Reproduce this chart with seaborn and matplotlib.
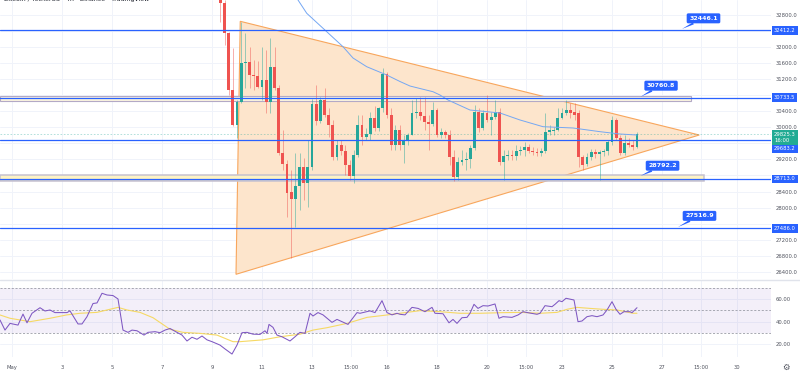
import numpy as np
import pandas as pd
import matplotlib
matplotlib.use("Agg")
import matplotlib.pyplot as plt
import matplotlib.transforms as mtransforms
from matplotlib.patches import Polygon, Rectangle
from matplotlib.lines import Line2D
import seaborn as sns

# ---------------- data ----------------
# BTC 4h candles, chronological, first candle May 9 08:00
candle_open = [33539, 33099, 32337, 30927, 30056, 30636, 31591, 31623, 31300, 31275,
               30994, 31176, 30621, 31506, 30969, 29367, 29086, 28390, 28215, 28539,
               29019, 28621, 29019, 30579, 30163, 30678, 30305, 30056, 29268, 29559,
               29417, 29061, 28788, 29310, 30056, 29758, 29832, 30230, 29982, 30479,
               31325, 30305, 29559, 29932, 29559, 29683, 29807, 30355, 30380, 30280,
               30131, 30081, 30429, 29807, 29882, 29807, 29261, 28763, 29136, 29186,
               29211, 29484, 30380, 29982, 30355, 30181, 30255, 30380, 29136, 29286,
               29310, 29286, 29410, 29434, 29509, 29410, 29385, 29360, 29410, 29882,
               29907, 29932, 30230, 30355, 30429, 30380, 30355, 29261, 29086, 29261,
               29385, 29334, 29385, 29410, 29634, 30181, 29733, 29360, 29609, 29559,
               29509]
candle_high = [33663, 33166, 32370, 31972, 30678, 32626, 32352, 32004, 31673, 31648,
               32004, 31922, 32220, 32004, 31051, 29932, 29186, 28937, 29360, 29360,
               29236, 29683, 30703, 31051, 30760, 30977, 30479, 30181, 29683, 29683,
               29559, 29186, 29434, 30305, 30305, 29982, 30387, 30529, 30511, 31467,
               31375, 30479, 30056, 30056, 29807, 29857, 30678, 30728, 30760, 30760,
               30305, 30636, 30479, 29982, 29932, 29932, 29434, 29261, 29434, 29385,
               29559, 30554, 30479, 30429, 30802, 30380, 30678, 30479, 29434, 29434,
               29434, 29559, 29534, 29641, 29584, 29509, 29484, 29484, 30355, 30056,
               30006, 30479, 30479, 30678, 30611, 30611, 30429, 29310, 29360, 29459,
               29459, 29434, 29459, 29683, 30281, 30230, 29807, 29807, 29733, 29683,
               29882]
candle_low = [32626, 32046, 30802, 30031, 29733, 30603, 30977, 30977, 30927, 30977,
              30678, 30355, 30355, 30927, 29310, 28937, 27768, 26755, 27519, 27942,
              28190, 28016, 28937, 30056, 30106, 30255, 29758, 29186, 29186, 29310,
              28812, 28688, 28613, 29261, 29559, 29683, 29683, 29907, 29907, 30380,
              30230, 29434, 29434, 29434, 29111, 29559, 29807, 30230, 30181, 29932,
              29434, 30031, 29758, 29733, 29733, 29061, 28663, 28688, 29061, 28937,
              28987, 29434, 29882, 29932, 30131, 29807, 30206, 29061, 28688, 29186,
              29186, 29186, 29310, 29286, 29360, 29310, 29286, 29286, 29360, 29807,
              29807, 29907, 30200, 30300, 30230, 30181, 29012, 28937, 29036, 29186,
              29236, 28688, 29286, 29310, 29559, 29683, 29310, 29310, 29509, 29434,
              29484]
candle_close = [33099, 32337, 30927, 30056, 30636, 31591, 31623, 31300, 31275, 30994,
                31176, 30621, 31506, 30969, 29367, 29086, 28372, 28215, 28539, 29019,
                28621, 29019, 30579, 30163, 30678, 30305, 30056, 29268, 29559, 29417,
                29061, 28788, 29310, 30056, 29758, 29832, 30230, 29982, 30479, 31325,
                30305, 29559, 29932, 29559, 29683, 29807, 30355, 30380, 30280, 30131,
                30081, 30429, 29807, 29882, 29807, 29261, 28763, 29136, 29186, 29211,
                29484, 30380, 29982, 30355, 30181, 30255, 30380, 29136, 29286, 29310,
                29286, 29410, 29434, 29509, 29410, 29385, 29360, 29410, 29882, 29932,
                29932, 30230, 30355, 30429, 30355, 30305, 29261, 29061, 29261, 29385,
                29334, 29385, 29410, 29634, 30181, 29733, 29360, 29609, 29559, 29509,
                29825]
candle_start = "2022-05-09 08:00"

# moving average drawn on the price pane (day of May, price)
ma_day = [12.30, 12.44, 12.79, 13.59, 14.24, 14.64, 15.19, 15.99, 16.52, 16.92,
          17.84, 18.12, 18.44, 19.32, 20.52, 21.32, 22.24, 23.44, 24.52, 25.32, 26.0]
ma_price = [33450, 33166, 32835, 32377, 32004, 31723, 31506, 31300, 31138, 31026,
            30884, 30802, 30678, 30429, 30355, 30181, 30014, 29982, 29890, 29832, 29807]

# RSI (day of May, value)
rsi_day = [0.52, 0.72, 0.92, 1.24, 1.44, 1.60, 1.80, 2.12, 2.32, 2.52, 2.72, 3.20, 3.32,
           3.64, 3.80, 4.00, 4.24, 4.40, 4.60, 4.80, 5.04, 5.24, 5.44, 5.64, 5.80, 6.00,
           6.28, 6.44, 6.72, 6.92, 7.12, 7.32, 7.60, 7.80, 8.00, 8.20, 8.40, 8.60, 8.80,
           9.00, 9.32, 9.52, 9.80, 10.00, 10.20, 10.40, 10.64, 10.92, 11.12, 11.20, 11.28,
           11.44, 11.60, 11.80, 12.12, 12.32, 12.52, 12.72, 12.92, 13.04, 13.24, 13.44,
           13.80, 14.00, 14.44, 14.80, 14.92, 15.32, 15.52, 15.80, 16.00, 16.20, 16.40,
           16.52, 16.72, 17.00, 17.24, 17.52, 17.80, 17.92, 18.24, 18.48, 18.64, 18.80,
           19.00, 19.20, 19.32, 19.48, 19.64, 19.84, 20.04, 20.32, 20.48, 20.64, 21.00,
           21.24, 21.44, 21.64, 22.00, 22.12, 22.32, 22.60, 22.72, 22.88, 23.00, 23.16,
           23.48, 23.64, 23.80, 24.00, 24.20, 24.40, 24.64, 24.80, 25.00, 25.16, 25.32,
           25.48, 25.72, 25.80, 26.00]
rsi_value = [41.5, 32.6, 38.5, 37, 46.7, 39, 47.4, 52.3, 49.4, 50.3, 48, 48, 49.5,
             38, 38, 44.4, 56, 56.5, 65, 63.5, 63, 60, 32.6, 30.6, 32.6, 32,
             28.2, 30.6, 31.2, 30.3, 32.6, 34, 30.6, 28.2, 23, 26.3, 24.5, 27.4, 24,
             22.4, 19.4, 16, 11.5, 19.4, 30.3, 30.6, 29, 28.8, 32, 29.7, 37.6,
             35, 28.2, 26.7, 23, 26.7, 30.6, 29.7, 47.4, 45, 48, 46,
             39.4, 42, 37.6, 48, 47.4, 49.5, 48, 58.5, 48, 46, 47.4,
             46.5, 46, 52.6, 51.7, 48.8, 52.6, 47.4, 47, 39, 42, 38.5,
             43.5, 43.8, 47.4, 55.3, 51.7, 54.1, 53.8, 55.6, 43, 44.4, 43.8,
             45.9, 48.8, 47.9, 46.5, 47.4, 54.1, 53.2, 55.3, 58.5, 57.6, 60.6,
             59.1, 40, 40.6, 44.4, 45.3, 44.4, 45.9, 50.3, 57.6, 50.9, 46.5,
             48.8, 48.8, 47.9, 52.3]
rsi_ma_day = [0.52, 0.92, 1.72, 2.52, 3.20, 3.72, 4.40, 4.80, 5.24, 5.60, 6.12, 6.64,
              7.32, 7.84, 8.52, 9.20, 9.84, 10.12, 11.04, 11.72, 12.52, 13.04, 13.60,
              14.40, 15.20, 16.00, 16.52, 17.32, 18.12, 18.92, 19.72, 20.52, 21.32,
              22.12, 22.80, 23.20, 23.60, 24.12, 24.64, 25.20, 25.84, 26.00]
rsi_ma_value = [45.9, 43, 40, 43, 46, 47.4, 48.2, 50.3, 52.6, 50.3, 48.2, 43.5,
                33.3, 30.6, 29.7, 28.2, 22.4, 22.4, 24, 26.7, 29, 32.6, 34.7,
                38.5, 43.8, 45.9, 47.4, 49.7, 48.8, 47.4, 47.4, 47.9, 48.2,
                47.4, 48.2, 50.9, 52.6, 51.7, 50.9, 50.3, 47.4, 47.4]

# drawn objects
hline_levels = [32412.2, 30733.5, 29683.2, 28713.0, 27486.0]
callout_values = [32446.1, 30760.8, 28792.2, 27516.9]
zone_low = [30646, 28671]
zone_high = [30770, 28805]
zone_end_day = [28.16, 28.68]
triangle_day = [10.13, 9.96, 28.49]
triangle_price = [32636, 26342, 29807]
last_price = 29825.3
countdown = "16:00"

# price scale labels that are not hidden behind the level boxes
price_ticks = [26400, 26800, 27200, 28000, 28400, 29200,
               30000, 30400, 31200, 31600, 32000, 32800]
grid_prices = [26400, 26800, 27200, 27600, 28000, 28400, 28800, 29200, 29600,
               30000, 30400, 30800, 31200, 31600, 32000, 32400, 32800]
rsi_ticks = [20, 40, 60]
time_tick_day = [1, 3, 5, 7, 9, 11, 13, 14.55, 16, 18, 20, 21.55, 23, 25, 27, 28.55, 30]
time_tick_label = ["May", "3", "5", "7", "9", "11", "13", "15:00", "16", "18", "20",
                   "15:00", "23", "25", "27", "15:00", "30"]
title_text = "Bitcoin / TetherUS · 4h · Binance · TradingView"

# ---------------- styling / layout ----------------
sns.set_theme(style="white")
plt.rcParams["font.family"] = ["DejaVu Sans"]

BLUE = "#2962ff"
UP, DOWN = "#26a69a", "#ef5350"
GRID = "#f0f3fa"
TXT = "#50535e"

W, H = 800, 373
fig = plt.figure(figsize=(W / 100, H / 100), dpi=100)
fig.patch.set_facecolor("white")


def fy(py):
    return 1 - py / H


ax = fig.add_axes([0, fy(279), 771 / W, fy(0) - fy(279)])
axr = fig.add_axes([0, fy(357), 771 / W, fy(280) - fy(357)], sharex=ax)
for a in (ax, axr):
    a.set_facecolor("white")
    for s in a.spines.values():
        s.set_visible(False)

ax.set_xlim(0.52, 31.36)
ax.set_ylim(26225, 33166)
axr.set_ylim(8.9, 76.7)

# grid
for p in grid_prices:
    ax.axhline(p, color=GRID, lw=0.7, zorder=0)
for d in time_tick_day:
    ax.axvline(d, color=GRID, lw=0.7, zorder=0)
    axr.axvline(d, color=GRID, lw=0.7, zorder=0)
for r in rsi_ticks:
    axr.axhline(r, color=GRID, lw=0.7, zorder=0)

# triangle
tri = Polygon(list(zip(triangle_day, triangle_price)), closed=True,
              facecolor="#fde5cc", edgecolor="#f8a65c", lw=0.8, zorder=1)
ax.add_patch(tri)

# zones
zone_styles = [dict(fc="#fbf5df", ec="#b3a9c6", lw=0.8),
               dict(fc="#fdf3c4", ec="#c6c1cf", lw=1.1)]
for lo, hi, end, st in zip(zone_low, zone_high, zone_end_day, zone_styles):
    ax.add_patch(Rectangle((0.52, lo), end - 0.52, hi - lo, zorder=1.5, **st))

# candles
times = pd.date_range(candle_start, periods=len(candle_open), freq="4h")
cday = np.asarray(times.day + times.hour / 24.0, dtype=float)
o = np.array(candle_open, float)
h = np.array(candle_high, float)
l = np.array(candle_low, float)
c = np.array(candle_close, float)
cols = np.where(c >= o, UP, DOWN)
ax.vlines(cday, l, h, colors=cols, lw=0.6, alpha=0.55, zorder=3)
ax.bar(cday, np.maximum(np.abs(c - o), 18), bottom=np.minimum(o, c), width=0.11,
       color=cols, linewidth=0, zorder=4)

# moving average
sns.lineplot(x=ma_day, y=ma_price, ax=ax, color="#74a7f3", lw=0.7, errorbar=None,
             sort=False, zorder=4.5)

# current price dotted line
ax.axhline(last_price, color=UP, lw=0.6, ls=(0, (2, 2)), alpha=0.4, zorder=2)

# horizontal levels
for lv in hline_levels:
    ax.axhline(lv, color=BLUE, lw=0.9, zorder=5)

# callouts
callout_anchor_day = [27.80, 26.15, 26.15, 27.64]
callout_offset = [(21.5, 10.6), (20.3, 11.0), (21.8, 10.1), (21.5, 11.2)]
for val, d, off in zip(callout_values, callout_anchor_day, callout_offset):
    ax.annotate(f"{val:.1f}", xy=(d, val), xytext=off, textcoords="offset pixels",
                ha="center", va="center", color="white", fontsize=4.5, fontweight="bold",
                bbox=dict(boxstyle="round,pad=0.4,rounding_size=0.25", fc=BLUE, ec="none"),
                arrowprops=dict(arrowstyle="wedge,tail_width=0.35,shrink_factor=0.5",
                                fc=BLUE, ec="none", shrinkA=0, shrinkB=0),
                zorder=8, annotation_clip=False)

# right price scale
ax.yaxis.tick_right()
ax.set_yticks(price_ticks)
ax.set_yticklabels([f"{p:.1f}" for p in price_ticks])
ax.tick_params(axis="y", length=0, pad=3.5, labelsize=3.8, labelcolor=TXT)
ax.tick_params(axis="x", bottom=False, labelbottom=False)

trans = mtransforms.blended_transform_factory(ax.transAxes, ax.transData)
label_shift = {29683.2: -8.5}
for lv in hline_levels:
    ax.annotate(f"{lv:.1f}", xy=(1.0, lv), xycoords=trans,
                xytext=(3, label_shift.get(lv, 0)), textcoords="offset pixels",
                ha="left", va="center", color="white", fontsize=3.8,
                bbox=dict(boxstyle="square,pad=0.35", fc=BLUE, ec="none"),
                zorder=9, annotation_clip=False)
ax.annotate(f"{last_price:.1f}\n{countdown}", xy=(1.0, last_price), xycoords=trans,
            xytext=(3, -3.2), textcoords="offset pixels", ha="left", va="center",
            color="white", fontsize=3.8, linespacing=1.25,
            bbox=dict(boxstyle="square,pad=0.35", fc="#22ab94", ec="none"),
            zorder=10, annotation_clip=False)

# RSI pane
axr.axhspan(30, 70, color="#7e57c2", alpha=0.09, lw=0, zorder=0.5)
for r in (70, 50, 30):
    axr.axhline(r, color="#9a9ca6", lw=0.6, ls=(0, (2.5, 2)), zorder=1)
sns.lineplot(x=rsi_ma_day, y=rsi_ma_value, ax=axr, color="#f6d964", lw=0.8,
             errorbar=None, sort=False, zorder=2)
sns.lineplot(x=rsi_day, y=rsi_value, ax=axr, color="#7e57c2", lw=0.75,
             errorbar=None, sort=False, zorder=3)
axr.yaxis.tick_right()
axr.set_yticks(rsi_ticks)
axr.set_yticklabels([f"{r:.2f}" for r in rsi_ticks])
axr.tick_params(axis="y", length=0, pad=3.5, labelsize=3.8, labelcolor=TXT)
axr.set_xticks(time_tick_day)
axr.set_xticklabels(time_tick_label)
axr.tick_params(axis="x", length=0, pad=5.5, labelsize=3.8, labelcolor=TXT)
axr.set_xlabel("")
axr.set_ylabel("")
ax.set_xlabel("")
ax.set_ylabel("")

# pane separator, title, settings icon
fig.add_artist(Line2D([0, 1], [fy(279.5), fy(279.5)], color="#e0e3eb", lw=1.0))
fig.text(4 / W, fy(0), title_text, fontsize=4.5, color="#131722", ha="left", va="center")
fig.text(786 / W, fy(367), "\u2699", fontsize=6, color=TXT, ha="center", va="center")

fig.savefig("out.png", dpi=100, facecolor="white")
